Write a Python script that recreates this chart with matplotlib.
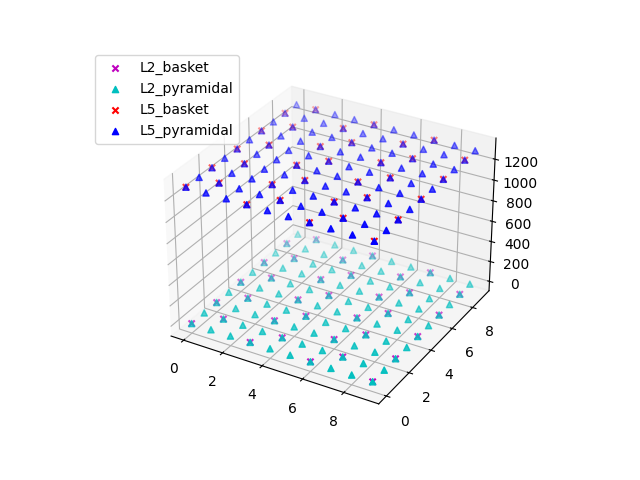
import matplotlib
matplotlib.use("Agg")
import matplotlib.pyplot as plt
from mpl_toolkits.mplot3d import Axes3D

# grid positions
pyr_x = [0, 1, 2, 3, 4, 5, 6, 7, 8, 9]
pyr_y = [0, 1, 2, 3, 4, 5, 6, 7, 8, 9]
basket_even_x = [0, 3, 6, 9]
basket_even_y = [0, 2, 4, 6, 8]
basket_odd_x = [1, 4, 7]
basket_odd_y = [1, 3, 5, 7, 9]

L2_z = 0
L5_z = 1304

cell_types = ["L2_basket", "L2_pyramidal", "L5_basket", "L5_pyramidal"]
layer_z = [L2_z, L2_z, L5_z, L5_z]
colors = ["m", "c", "r", "b"]
markers = ["x", "^", "x", "^"]


def grid_pos(xs, ys):
    return [(x, y) for x in xs for y in ys]


pyr_pos = grid_pos(pyr_x, pyr_y)
basket_pos = grid_pos(basket_even_x, basket_even_y) + grid_pos(basket_odd_x, basket_odd_y)

fig = plt.figure()
ax = fig.add_subplot(projection="3d")

for name, z, color, marker in zip(cell_types, layer_z, colors, markers):
    pos = basket_pos if "basket" in name else pyr_pos
    x = [p[0] for p in pos]
    y = [p[1] for p in pos]
    ax.scatter(x, y, [z] * len(pos), color=color, marker=marker, label=name)

ax.legend(bbox_to_anchor=(-0.148, 1.025), loc="upper left")
fig.savefig("out.png")
